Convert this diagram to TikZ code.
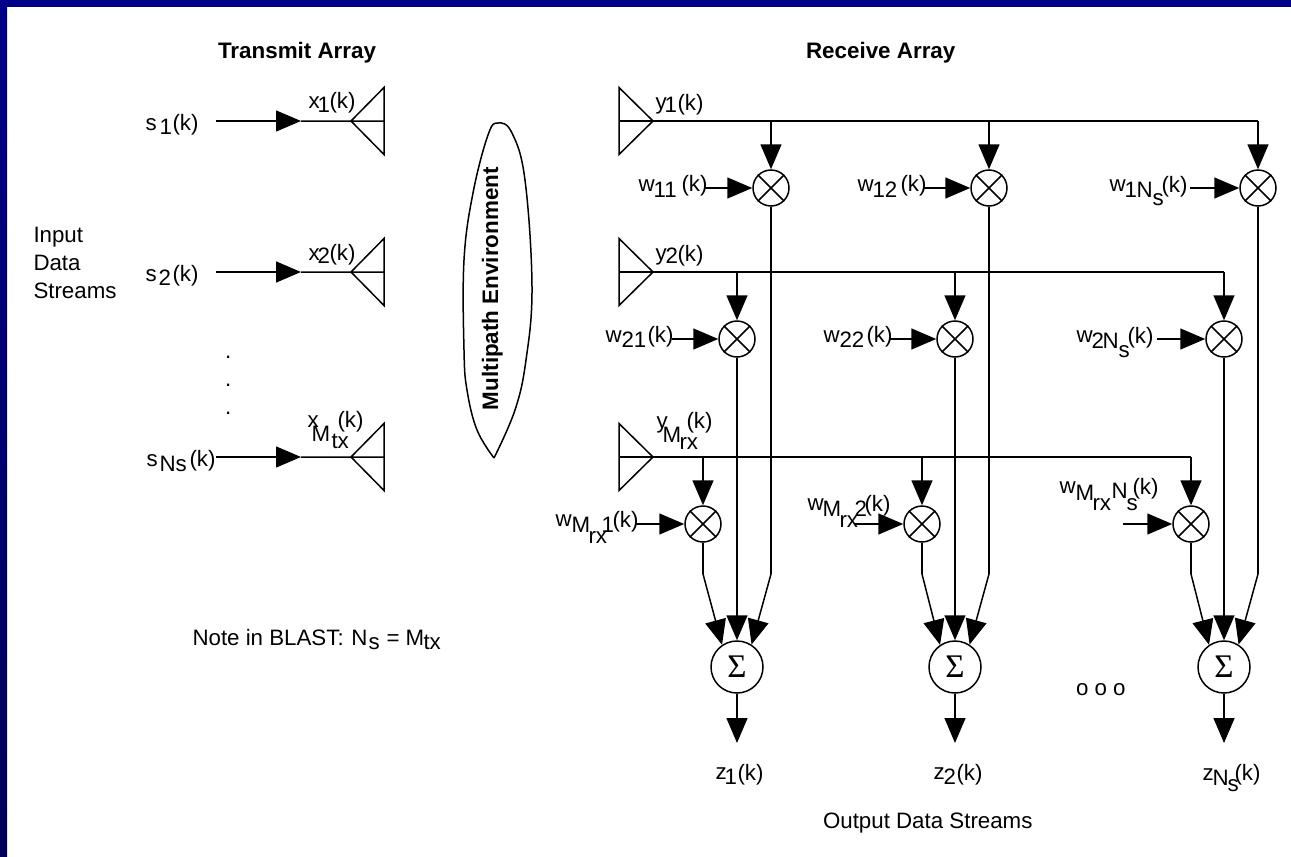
\documentclass[tikz,border=0pt]{standalone}
\usepackage{fontspec}
\setmainfont{Liberation Sans}
\newfontfamily\sigfont{Liberation Serif}
\usetikzlibrary{arrows.meta}
\newcommand\pc[3]{\rlap{\kern#1pt\raisebox{\dimexpr-#2pt\relax}{#3}}}
\tikzset{
  x=1pt,y=-1pt,
  wire/.style={line width=1.5pt,draw=black},
  arr/.style={wire,-{Triangle[length=25pt,width=21pt]}},
  lbl/.style={anchor=base west,inner sep=0pt,outer sep=0pt,font=\fontsize{22.3}{26}\selectfont},
  head/.style={lbl,font=\fontsize{22.4}{26}\selectfont\bfseries},
  mult/.style={circle,draw=black,line width=1.5pt,minimum size=36pt,inner sep=0pt},
  summ/.style={circle,draw=black,line width=1.5pt,minimum size=52pt,inner sep=0pt,font=\fontsize{33}{33}\selectfont\sigfont},
}
\definecolor{bartop}{HTML}{000088}
\definecolor{barbot}{HTML}{00005A}
\begin{document}
\begin{tikzpicture}
\useasboundingbox (0,0) rectangle (1291,857);
\fill[white] (0,0) rectangle (1291,857);
\shade[top color=bartop,bottom color=barbot,draw=none] (0,0) rectangle (7,857);
\fill[bartop] (0,0) rectangle (1291,7);

% headings and free text
\node[head] (ttx) at (218,58) {Transmit Array};
\node[head] (trx) at (806,58) {Receive Array};
\node[lbl] (in1) at (33.5,242) {Input};
\node[lbl] (in2) at (33.5,270) {Data};
\node[lbl] (in3) at (33.5,298) {Streams};
\node[lbl] (d1) at (225,358) {.};
\node[lbl] (d2) at (225,386) {.};
\node[lbl] (d3) at (225,414) {.};
\node[lbl] (note) at (192,645) {\pc{0}{0}{Note in BLAST:}\pc{159}{0}{N}\pc{176}{4}{s}\pc{194}{0}{=}\pc{213}{0}{M}\pc{231}{4}{tx}};
\node[lbl] (oo) at (1076,695) {o o o};
\node[lbl] (out) at (823,828) {Output Data Streams};
\node[head,rotate=90] (mp) at (498,410) {Multipath Environment};
\draw[wire] plot[smooth,tension=.65] coordinates {(494,458) (477,430) (467,390) (464,350) (464,260) (473,193) (488,135) (498,123) (512,133) (525,180) (532,287) (526,360) (515,410) (494,458)};

% transmit side
\foreach \n/\yy in {1/121,2/272,3/457}{
  \coordinate (sa\n) at (216,\yy);
  \coordinate (st\n) at (301,\yy);
  \coordinate (ta\n) at (351,\yy);
  \draw[arr] (sa\n) -- (st\n);
  \draw[wire] (st\n) -- (ta\n) -- ++(33,0) -- ++(0,-33.5) -- (ta\n) -- ++(33,33.5) -- ++(0,-33.5);
}
\node[lbl] (s1) at (145,130) {\pc{0}{0}{s}\pc{14}{4}{1}\pc{27}{0}{(k)}};
\node[lbl] (s2) at (145,281) {\pc{0}{0}{s}\pc{13}{4}{2}\pc{27}{0}{(k)}};
\node[lbl] (s3) at (146,466) {\pc{0}{0}{s}\pc{13}{5}{Ns}\pc{43}{0}{(k)}};
\node[lbl] (x1) at (308,108) {\pc{0}{0}{x}\pc{9}{4}{1}\pc{21}{0}{(k)}};
\node[lbl] (x2) at (308,260) {\pc{0}{0}{x}\pc{9}{3}{2}\pc{21}{0}{(k)}};
\node[lbl] (x3) at (307,427) {\pc{0}{0}{x}\pc{4}{14}{M}\pc{24}{21}{tx}\pc{30}{0}{(k)}};

% receive side: rows
\coordinate (ra1) at (653,121);
\coordinate (ra2) at (653,272);
\coordinate (ra3) at (653,457);
\foreach \n/\ee in {1/1258,2/1224,3/1191}{
  \coordinate (re\n) at (\ee,0);
  \draw[wire] (ra\n) -- ++(-34,-33.5) -- ++(0,67) -- (ra\n);
  \draw[wire] (ra\n) ++(-34,0) -- (re\n |- ra\n);
}
\node[lbl] (y1) at (655,109) {\pc{0}{0}{y}\pc{9}{3}{1}\pc{22}{1}{(k)}};
\node[lbl] (y2) at (655,260) {\pc{0}{0}{y}\pc{10}{3}{2}\pc{22}{1}{(k)}};
\node[lbl] (y3) at (656,428) {\pc{0}{0}{y}\pc{6}{14}{M}\pc{23}{21}{rx}\pc{30}{0}{(k)}};

% summers
\node[summ] (S1) at (737,667) {Σ};
\node[summ] (S2) at (955,667) {Σ};
\node[summ] (S3) at (1224,667) {Σ};

% multipliers
\node[mult] (m11) at (771,188) {};
\node[mult] (m12) at (989,188) {};
\node[mult] (m13) at (1258,188) {};
\node[mult] (m21) at (737,339) {};
\node[mult] (m22) at (955,339) {};
\node[mult] (m23) at (1224,339) {};
\node[mult] (m31) at (703,524) {};
\node[mult] (m32) at (922,524) {};
\node[mult] (m33) at (1191,524) {};
\foreach \r/\c in {1/1,1/2,1/3,2/1,2/2,2/3,3/1,3/2,3/3}{
  \draw[wire] (m\r\c.45) -- (m\r\c.225) (m\r\c.135) -- (m\r\c.315);
  \draw[arr] (m\r\c |- ra\r) -- (m\r\c.north);
}

% weight inputs
\foreach \r/\c/\xs in {1/1/705,1/2/924,1/3/1190,2/1/672,2/2/890,2/3/1157,3/1/636,3/2/855,3/3/1123}{
  \coordinate (wa\r\c) at (\xs,0);
  \draw[arr] (wa\r\c |- m\r\c) -- (m\r\c.west);
}
\node[lbl] (w11) at (638,191) {\pc{0}{0}{w}\pc{15}{6}{11}\pc{43}{0}{(k)}};
\node[lbl] (w12) at (857,191) {\pc{0}{0}{w}\pc{15}{6}{12}\pc{43}{0}{(k)}};
\node[lbl] (w13) at (1109,191) {\pc{0}{0}{w}\pc{15}{6}{1}\pc{27}{6}{N}\pc{43}{14}{s}\pc{52}{1}{(k)}};
\node[lbl] (w21) at (605,342) {\pc{0}{0}{w}\pc{16}{5}{21}\pc{42}{0}{(k)}};
\node[lbl] (w22) at (823,342) {\pc{0}{0}{w}\pc{16}{5}{22}\pc{43}{0}{(k)}};
\node[lbl] (w23) at (1076,342) {\pc{0}{0}{w}\pc{15}{6}{2}\pc{26}{6}{N}\pc{42}{15}{s}\pc{51}{1}{(k)}};
\node[lbl] (w31) at (555,526) {\pc{0}{0}{w}\pc{16}{6}{M}\pc{33}{17}{rx}\pc{46}{6}{1}\pc{57}{1}{(k)}};
\node[lbl] (w32) at (807,510) {\pc{0}{0}{w}\pc{15}{6}{M}\pc{32}{17}{rx}\pc{47}{6}{2}\pc{57}{1}{(k)}};
\node[lbl] (w33) at (1059,493) {\pc{0}{0}{w}\pc{16}{7}{M}\pc{33}{17}{rx}\pc{52}{5}{N}\pc{67}{17}{s}\pc{73}{1}{(k)}};

% to summers
\foreach \n/\xa/\xb/\xc in {1/m31/m21/m11,2/m32/m22/m12,3/m33/m23/m13}{
  \coordinate (bl\n) at (\xa |- 0,574);
  \coordinate (br\n) at (\xc |- 0,574);
  \draw[wire] (\xa.south) -- (bl\n);
  \draw[arr] (bl\n) -- (S\n.124);
  \draw[arr] (\xb.south) -- (S\n.north);
  \draw[wire] (\xc.south) -- (br\n);
  \draw[arr] (br\n) -- (S\n.57);
  \coordinate (zt\n) at (S\n |- 0,743);
  \draw[arr] (S\n.south) -- (zt\n);
}
\node[lbl] (z1) at (715,779) {\pc{0}{0}{z}\pc{9}{5}{1}\pc{22}{1}{(k)}};
\node[lbl] (z2) at (933,779) {\pc{0}{0}{z}\pc{10}{5}{2}\pc{23}{1}{(k)}};
\node[lbl] (z3) at (1202,780) {\pc{0}{0}{z}\pc{10}{5}{N}\pc{25}{11}{s}\pc{32}{0}{(k)}};
\end{tikzpicture}
\end{document}
